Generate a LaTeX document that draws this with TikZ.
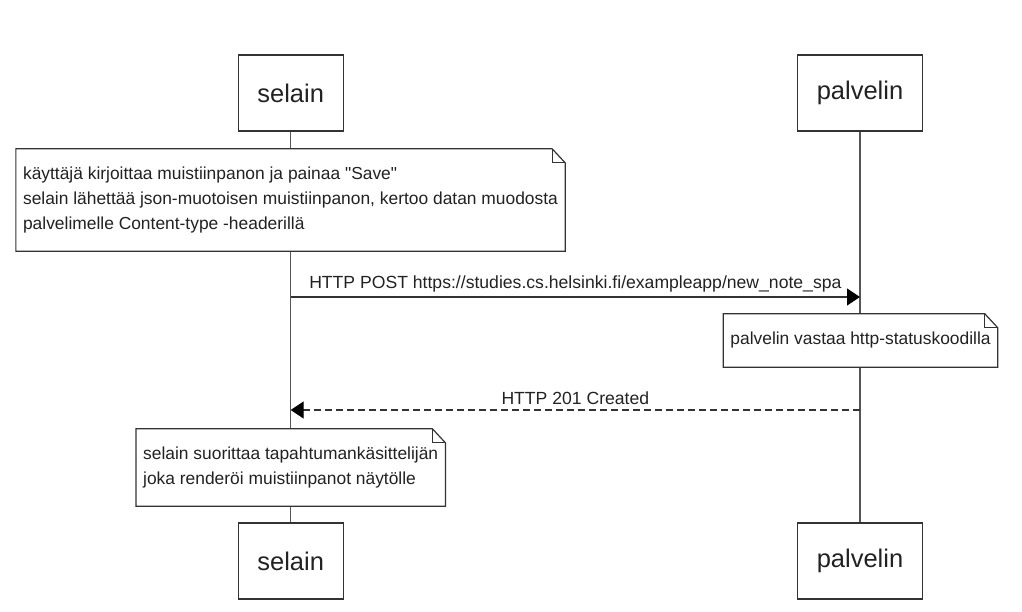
\documentclass[tikz,border=0pt]{standalone}
\usepackage{fontspec}
\setmainfont{Liberation Sans}[Ligatures=TeXOff]
\usetikzlibrary{arrows.meta}
\definecolor{ink}{HTML}{222222}
\definecolor{edgegray}{HTML}{333333}
\definecolor{lifegray}{HTML}{555555}

% outline of a note with a folded top-right corner
\newcommand\foldnote[1]{%
  \draw[noteline] (#1.north west) -- ([xshift=-13pt]#1.north east)
    -- ([yshift=-14pt]#1.north east) -- (#1.south east) -- (#1.south west) -- cycle;
  \draw[noteline] ([xshift=-13pt]#1.north east) |- ([yshift=-14pt]#1.north east);}

\begin{document}
\begin{tikzpicture}[x=1pt,y=-1pt,
  actor/.style={draw=edgegray, line width=1.3pt, fill=white, minimum height=76pt,
    inner xsep=19.2pt, text=ink, font=\fontsize{25.5}{30}\selectfont},
  memo/.style={fill=white, draw=none, align=left, inner xsep=7pt, text=ink,
    font=\fontsize{17.4}{25}\selectfont},
  noteline/.style={draw=edgegray, line width=1.2pt},
  lifeline/.style={draw=lifegray, line width=1.3pt},
  msg/.style={draw=edgegray, line width=1.2pt, -{Triangle[length=13pt,width=17pt,black]}},
  lbl/.style={midway, anchor=base, inner sep=0pt, text=ink, font=\fontsize{17.6}{25}\selectfont}]
\useasboundingbox (0,0) rectangle (1022,612);

% participants
\node[actor] (selTop) at (290.7,93) {selain};
\node[actor] (palTop) at (860,93) {palvelin};
\node[actor] (selBot) at (290.7,561) {selain};
\node[actor] (palBot) at (860,561) {palvelin};

% lifelines
\draw[lifeline] (selTop) -- (selBot);
\draw[lifeline] (palTop) -- (palBot);

% notes
\node[memo, minimum height=102pt] (n1) at (290.5,200)
  {käyttäjä kirjoittaa muistiinpanon ja painaa "Save"\\
   selain lähettää json-muotoisen muistiinpanon, kertoo datan muodosta\\
   palvelimelle Content-type -headerillä};
\foldnote{n1}
\node[memo, minimum height=53pt] (n2) at (860.5,340.5)
  {palvelin vastaa http-statuskoodilla};
\foldnote{n2}
\node[memo, minimum height=77pt] (n3) at (290.7,467.5)
  {selain suorittaa tapahtumankäsittelijän\\
   joka renderöi muistiinpanot näytölle};
\foldnote{n3}

% message end points on the lifelines
\coordinate (postS) at (selTop |- 0,297);
\coordinate (postP) at (palTop |- 0,297);
\coordinate (retP) at (palTop |- 0,410);
\coordinate (retS) at (selTop |- 0,410);

% messages
\draw[msg] (postS) -- node[lbl, yshift=8.7pt]
  {HTTP POST https://studies.cs.helsinki.fi/exampleapp/new\_note\_spa} (postP);
\draw[msg, dash pattern=on 7pt off 4pt] (retP) -- node[lbl, yshift=6pt]
  {HTTP 201 Created} (retS);
\end{tikzpicture}
\end{document}
